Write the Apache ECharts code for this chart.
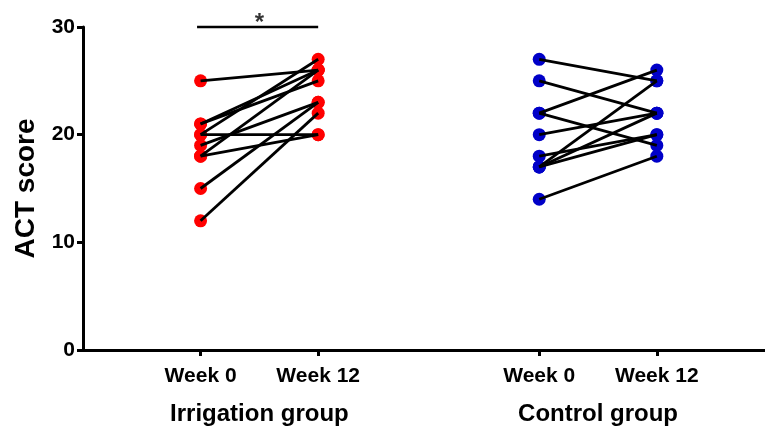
<!DOCTYPE html>
<html>
<head>
<meta charset="utf-8">
<script src="https://cdn.jsdelivr.net/npm/echarts@6/dist/echarts.min.js"></script>
<style>
html,body{margin:0;padding:0;background:#fff;}
#chart{width:765px;height:430px;}
</style>
</head>
<body>
<div id="chart"></div>
<script>
// ---- data ----
const timeLabels = ['Week 0', 'Week 12'];
const groupLabels = ['Irrigation group', 'Control group'];
const irrigationPos = [1, 2];
const controlPos = [3.88, 4.88];
const irrigationWeek0  = [25, 12, 15, 20, 18, 19, 21, 21, 20, 18];
const irrigationWeek12 = [26, 22, 23, 20, 20, 23, 26, 25, 27, 26];
const controlWeek0  = [27, 25, 22, 22, 20, 14, 17, 17, 17, 18];
const controlWeek12 = [25, 22, 26, 19, 22, 18, 25, 22, 20, 20];
const yTicks = [0, 10, 20, 30];
const sigLabel = '*';

const FONT = '"Liberation Sans", Arial, sans-serif';
const RED = '#ff0000';
const BLUE = '#0000c8';

function pairSeries(pos, w0, w12) {
  return w0.map((v, i) => ({
    type: 'line',
    data: [[pos[0], v], [pos[1], w12[i]]],
    showSymbol: false,
    symbol: 'none',
    lineStyle: { color: '#000', width: 2.8 },
    z: 3,
    silent: true,
    animation: false
  }));
}
function dotSeries(pos, w0, w12, color) {
  const pts = [];
  w0.forEach((v, i) => { pts.push([pos[0], v]); pts.push([pos[1], w12[i]]); });
  return {
    type: 'scatter',
    data: pts,
    symbol: 'circle',
    symbolSize: 13,
    itemStyle: { color: color, opacity: 1 },
    z: 2,
    silent: true,
    animation: false
  };
}

const tickVals = irrigationPos.concat(controlPos);
const labelMap = {};
tickVals.forEach((v, i) => { labelMap[v] = timeLabels[i % 2]; });
const groupCenters = [(irrigationPos[0] + irrigationPos[1]) / 2, (controlPos[0] + controlPos[1]) / 2];
const groupMap = {};
groupCenters.forEach((v, i) => { groupMap[v] = groupLabels[i]; });

const chart = echarts.init(document.getElementById('chart'), null, { renderer: 'canvas' });
chart.setOption({
  animation: false,
  backgroundColor: '#fff',
  grid: { left: 83, right: 0, top: 27, bottom: 80, containLabel: false },
  xAxis: [{
    type: 'value', min: 0, max: 5.8,
    axisLine: { show: true, lineStyle: { color: '#000', width: 3 } },
    axisTick: { show: true, customValues: tickVals, length: 6, lineStyle: { color: '#000', width: 3 } },
    axisLabel: { show: true, customValues: tickVals, margin: 16,
      formatter: v => labelMap[v] || '',
      color: '#000', fontFamily: FONT, fontWeight: 'bold', fontSize: 21 },
    splitLine: { show: false }
  }, {
    type: 'value', min: 0, max: 5.8, position: 'bottom',
    axisLine: { show: false }, axisTick: { show: false },
    axisLabel: { show: true, customValues: groupCenters, margin: 52,
      formatter: v => groupMap[v] || '',
      color: '#000', fontFamily: FONT, fontWeight: 'bold', fontSize: 24 },
    splitLine: { show: false }
  }],
  yAxis: {
    type: 'value', min: 0, max: 30, interval: 10,
    name: 'ACT score', nameLocation: 'middle', nameGap: 41, nameRotate: 90,
    nameTextStyle: { color: '#000', fontFamily: FONT, fontWeight: 'bold', fontSize: 28 },
    axisLine: { show: true, lineStyle: { color: '#000', width: 3 } },
    axisTick: { show: true, length: 6, lineStyle: { color: '#000', width: 3 } },
    axisLabel: { margin: 8, color: '#000', fontFamily: FONT, fontWeight: 'bold', fontSize: 21 },
    splitLine: { show: false }
  },
  series: [
    dotSeries(irrigationPos, irrigationWeek0, irrigationWeek12, RED),
    dotSeries(controlPos, controlWeek0, controlWeek12, BLUE),
    ...pairSeries(irrigationPos, irrigationWeek0, irrigationWeek12),
    ...pairSeries(controlPos, controlWeek0, controlWeek12),
    {
      type: 'line',
      data: [[irrigationPos[0] - 0.03, 30], [irrigationPos[1], 30]],
      symbol: 'none', clip: false,
      lineStyle: { color: '#000', width: 2.5 },
      z: 4, silent: true, animation: false
    },
    {
      type: 'scatter',
      data: [[(irrigationPos[0] + irrigationPos[1]) / 2, 30]],
      symbolSize: 0, clip: false,
      label: { show: true, position: 'top', distance: -8, formatter: sigLabel,
        color: '#000', fontFamily: FONT, fontWeight: 'bold', fontSize: 24 },
      z: 4, silent: true, animation: false
    }
  ]
});
</script>
</body>
</html>
